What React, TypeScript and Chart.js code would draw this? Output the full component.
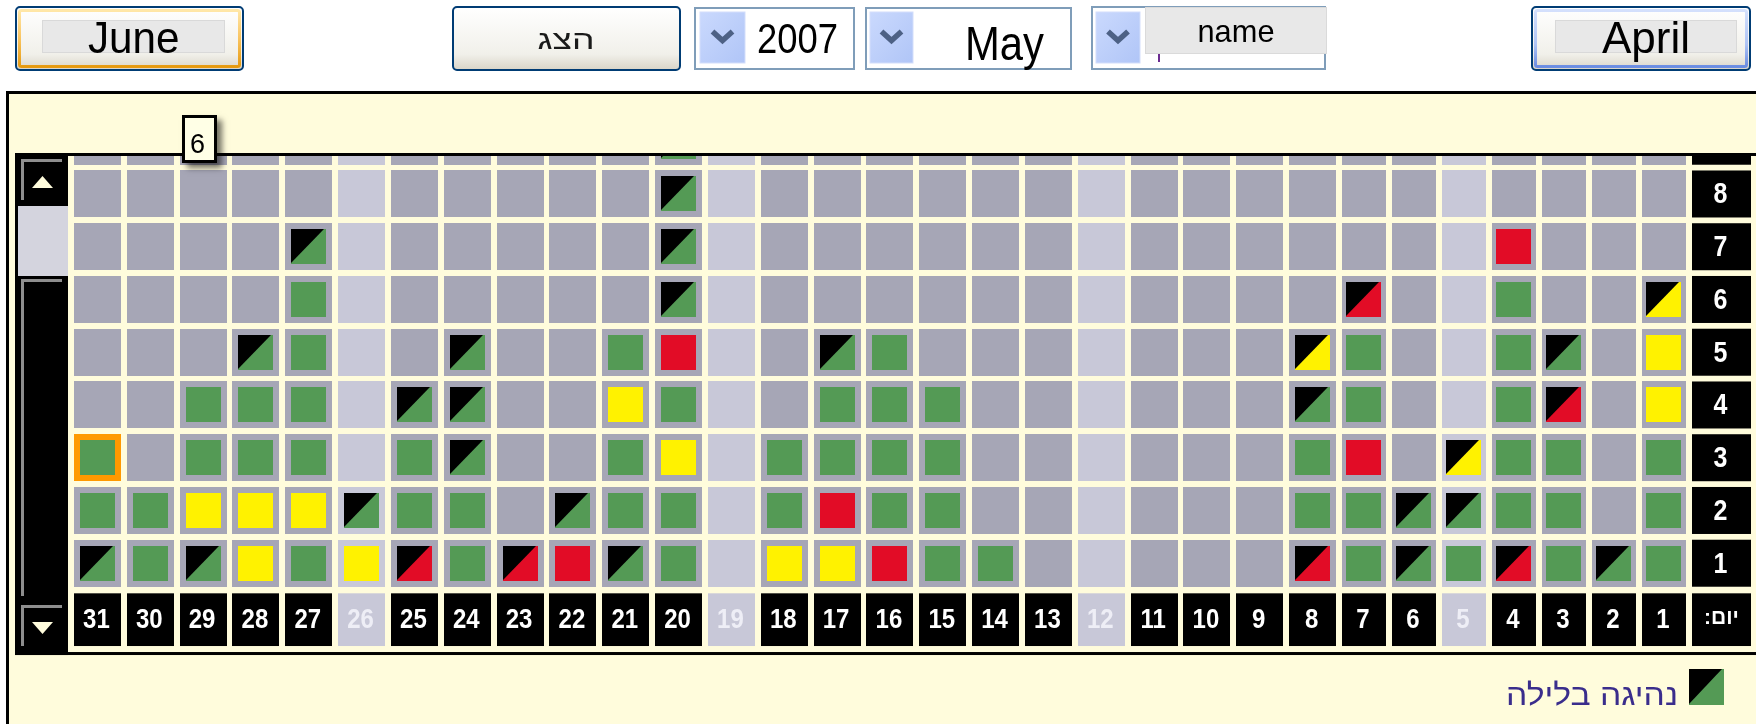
import React, { useEffect, useRef } from 'react';
import { Chart, registerables } from 'chart.js';

Chart.register(...registerables);

// ---------------- data ----------------
const DAYS = [31, 30, 29, 28, 27, 26, 25, 24, 23, 22, 21, 20, 19, 18, 17, 16, 15, 14, 13, 12, 11, 10, 9, 8, 7, 6, 5, 4, 3, 2, 1];
const REST_DAYS = [26, 19, 12, 5];
const ROWS = [9, 8, 7, 6, 5, 4, 3, 2, 1];
const DAY_AXIS_TITLE = 'יום:';
const LEGEND_TEXT = 'נהיגה בלילה';
const HOVER_TIP = '6';
const SELECTED_CELL = { day: 31, row: 3 };

const PREV_MONTH = 'June';
const NEXT_MONTH = 'April';
const SHOW_LABEL = 'הצג';
const YEAR_LABEL = '2007';
const MONTH_LABEL = 'May';
const DRIVER_LABEL = 'name';

type Cell = [number, number]; // [day, row]

const GREEN: Cell[] = [
  [27, 6], [4, 6],
  [27, 5], [21, 5], [16, 5], [7, 5], [4, 5],
  [29, 4], [28, 4], [27, 4], [20, 4], [17, 4], [16, 4], [15, 4], [7, 4], [4, 4],
  [31, 3], [29, 3], [28, 3], [27, 3], [25, 3], [21, 3], [18, 3], [17, 3], [16, 3], [15, 3], [8, 3], [4, 3], [3, 3], [1, 3],
  [31, 2], [30, 2], [25, 2], [24, 2], [21, 2], [20, 2], [18, 2], [16, 2], [15, 2], [8, 2], [7, 2], [4, 2], [3, 2], [1, 2],
  [30, 1], [27, 1], [24, 1], [20, 1], [15, 1], [14, 1], [7, 1], [5, 1], [3, 1], [1, 1],
];
const YELLOW: Cell[] = [
  [1, 5], [21, 4], [1, 4], [20, 3], [29, 2], [28, 2], [27, 2], [28, 1], [26, 1], [18, 1], [17, 1],
];
const RED: Cell[] = [[4, 7], [20, 5], [7, 3], [17, 2], [22, 1], [16, 1]];
const NIGHT_GREEN: Cell[] = [
  [20, 9], [20, 8], [27, 7], [20, 7], [20, 6],
  [28, 5], [24, 5], [17, 5], [3, 5],
  [25, 4], [24, 4], [8, 4], [24, 3],
  [26, 2], [22, 2], [6, 2], [5, 2],
  [31, 1], [29, 1], [21, 1], [6, 1], [2, 1],
];
const NIGHT_YELLOW: Cell[] = [[1, 6], [8, 5], [5, 3]];
const NIGHT_RED: Cell[] = [[7, 6], [3, 4], [25, 1], [23, 1], [8, 1], [4, 1]];

// ---------------- layout / style ----------------
const W = 1756;
const H = 724;
const FONT = '"Liberation Sans", Arial, sans-serif';
const CREAM = '#FFFCDC';
const CELL_GRAY = '#A6A6B6';
const CELL_LIGHT = '#C8C8D8';
const C_GREEN = '#549A55';
const C_YELLOW = '#FFF200';
const C_RED = '#E20C26';
const PITCH_WIDE = 52.83;
const PITCH_NARROW = 50;
const NARROW_MAX_DAY = 7;
const RATIO = PITCH_NARROW / PITCH_WIDE;
const CELL = 47;
const CELL_NARROW = 44;
const INNER = 35;

const colUnit = (d: number) =>
  d > NARROW_MAX_DAY ? 31 - d : 31 - NARROW_MAX_DAY - 1 + (1 + RATIO) / 2 + (NARROW_MAX_DAY - d) * RATIO;
const colWidth = (d: number) => (d > NARROW_MAX_DAY ? CELL : CELL_NARROW);

function makeCanvas(w: number, h: number, paint: (g: CanvasRenderingContext2D) => void) {
  const c = document.createElement('canvas');
  c.width = w;
  c.height = h;
  paint(c.getContext('2d')!);
  return c;
}

function buildImages() {
  const rect = (w: number, h: number, color: string) =>
    makeCanvas(w, h, (g) => {
      g.fillStyle = color;
      g.fillRect(0, 0, w, h);
    });
  const night = (color: string) =>
    makeCanvas(INNER, INNER, (g) => {
      g.fillStyle = color;
      g.fillRect(0, 0, INNER, INNER);
      g.fillStyle = '#000';
      g.beginPath();
      g.moveTo(0, 0);
      g.lineTo(INNER - 2, 0);
      g.lineTo(0, INNER - 1);
      g.closePath();
      g.fill();
    });
  return {
    grayWide: rect(CELL, CELL, CELL_GRAY),
    grayNarrow: rect(CELL_NARROW, CELL, CELL_GRAY),
    lightWide: rect(CELL, CELL, CELL_LIGHT),
    lightNarrow: rect(CELL_NARROW, CELL, CELL_LIGHT),
    selected: rect(CELL, CELL, '#FF9900'),
    green: rect(INNER, INNER, C_GREEN),
    yellow: rect(INNER, INNER, C_YELLOW),
    red: rect(INNER, INNER, C_RED),
    nGreen: night(C_GREEN),
    nYellow: night(C_YELLOW),
    nRed: night(C_RED),
  };
}

function drawStretched(
  ctx: CanvasRenderingContext2D,
  text: string,
  cx: number,
  cy: number,
  size: number,
  bold: boolean,
  color: string,
  sy: number,
) {
  ctx.save();
  ctx.translate(cx, cy);
  ctx.scale(1, sy);
  ctx.font = `${bold ? 'bold ' : ''}${size}px ${FONT}`;
  ctx.fillStyle = color;
  ctx.textAlign = 'center';
  ctx.textBaseline = 'alphabetic';
  ctx.fillText(text, 0, (size * 0.716) / 2);
  ctx.restore();
}

const decorPlugin = {
  id: 'decor',
  beforeDraw(chart: any) {
    const ctx: CanvasRenderingContext2D = chart.ctx;
    ctx.save();
    ctx.fillStyle = '#000';
    ctx.fillRect(6, 91, W - 6, 3);
    ctx.fillRect(6, 91, 3, H - 91);
    ctx.fillStyle = CREAM;
    ctx.fillRect(9, 94, W - 9, H - 94);
    ctx.restore();
  },
  beforeDatasetsDraw(chart: any) {
    chart.ctx.imageSmoothingEnabled = false;
  },
  afterDatasetsDraw(chart: any) {
    const ctx: CanvasRenderingContext2D = chart.ctx;
    const xs = chart.scales.x;
    const ys = chart.scales.y;
    const area = chart.chartArea;
    ctx.save();
    ctx.imageSmoothingEnabled = true;

    // grid frame
    ctx.fillStyle = '#000';
    ctx.fillRect(15, 153, W - 15, 3);
    const labelTop = ys.getPixelForValue(1) + CELL / 2 + 6.6;
    const labelH = 52.7;
    ctx.fillRect(15, labelTop + labelH + 6, W - 15, 3);
    // scrollbar
    ctx.fillRect(15, 153, 53, labelTop + labelH + 9 - 153);
    ctx.fillStyle = '#D4D4DE';
    ctx.fillRect(18, 206, 50, 70);
    ctx.fillStyle = '#8E8E8E';
    ctx.fillRect(21, 159, 41, 3);
    ctx.fillRect(21, 159, 3, 41);
    ctx.fillRect(21, 279, 41, 3);
    ctx.fillRect(21, 279, 3, 317);
    ctx.fillRect(21, 605, 41, 3);
    ctx.fillRect(21, 605, 3, 41);
    ctx.fillStyle = CREAM;
    ctx.beginPath();
    ctx.moveTo(32, 188);
    ctx.lineTo(53, 188);
    ctx.lineTo(42.5, 176);
    ctx.closePath();
    ctx.fill();
    ctx.beginPath();
    ctx.moveTo(32, 622);
    ctx.lineTo(53, 622);
    ctx.lineTo(42.5, 634);
    ctx.closePath();
    ctx.fill();

    // day label row (x axis)
    DAYS.forEach((d) => {
      const cx = xs.getPixelForValue(colUnit(d));
      const w = colWidth(d);
      const rest = REST_DAYS.includes(d);
      ctx.fillStyle = rest ? CELL_LIGHT : '#000';
      ctx.fillRect(Math.round(cx - w / 2), labelTop, w, labelH);
      drawStretched(ctx, String(d), cx - 1, labelTop + labelH / 2 - 1.5, 24, true, rest ? '#EEEEF6' : '#FFFFFF', 1.18);
    });

    // row label column (y axis)
    const colX = Math.round(xs.getPixelForValue(colUnit(1)) + CELL_NARROW / 2 + 6);
    const colW = 59;
    ctx.save();
    ctx.beginPath();
    ctx.rect(colX - 2, area.top, colW + 4, area.bottom - area.top);
    ctx.clip();
    ROWS.forEach((r) => {
      const cy = ys.getPixelForValue(r);
      ctx.fillStyle = '#000';
      ctx.fillRect(colX, cy - CELL / 2, colW, CELL);
      drawStretched(ctx, String(r), colX + colW / 2 - 1, cy - 1, 25, true, '#FFFFFF', 1.15);
    });
    ctx.restore();
    ctx.fillStyle = '#000';
    ctx.fillRect(colX, labelTop, colW, labelH);
    {
      // Hebrew word is an RTL run; the trailing colon sits on its left side.
      const word = DAY_AXIS_TITLE.replace(':', '');
      ctx.save();
      ctx.font = `bold 21px ${FONT}`;
      ctx.fillStyle = '#FFFFFF';
      ctx.textBaseline = 'middle';
      const ww = ctx.measureText(word).width;
      const cw = ctx.measureText(':').width;
      const total = ww + cw;
      const left = colX + colW / 2 - total / 2;
      const cy = labelTop + labelH / 2 - 1;
      ctx.textAlign = 'left';
      ctx.fillText(':', left, cy);
      ctx.fillText(word, left + cw, cy);
      ctx.restore();
    }

    // legend
    const iconX = 1689;
    const iconY = 669;
    ctx.fillStyle = C_GREEN;
    ctx.fillRect(iconX, iconY, 35, 36);
    ctx.fillStyle = '#000';
    ctx.beginPath();
    ctx.moveTo(iconX, iconY);
    ctx.lineTo(iconX + 33, iconY);
    ctx.lineTo(iconX, iconY + 35);
    ctx.closePath();
    ctx.fill();
    ctx.save();
    ctx.font = `30px ${FONT}`;
    ctx.textAlign = 'right';
    ctx.textBaseline = 'alphabetic';
    const mw = ctx.measureText(LEGEND_TEXT).width;
    const target = 172;
    ctx.translate(1678, 705);
    ctx.scale(target / mw, 1);
    ctx.fillStyle = '#3A2D8C';
    ctx.fillText(LEGEND_TEXT, 0, 0);
    ctx.restore();

    // hover tooltip
    ctx.save();
    ctx.shadowColor = 'rgba(0,0,0,0.55)';
    ctx.shadowBlur = 6;
    ctx.shadowOffsetX = 5;
    ctx.shadowOffsetY = 5;
    ctx.fillStyle = '#000';
    ctx.fillRect(182, 115, 35, 48);
    ctx.restore();
    ctx.fillStyle = '#FFFFE6';
    ctx.fillRect(185, 118, 29, 42);
    ctx.font = `27px ${FONT}`;
    ctx.fillStyle = '#000';
    ctx.textAlign = 'left';
    ctx.textBaseline = 'alphabetic';
    ctx.fillText(HOVER_TIP, 190, 153);

    ctx.restore();
  },
};

export default function App() {
  const ref = useRef<HTMLCanvasElement>(null);

  useEffect(() => {
    const canvas = ref.current;
    if (!canvas) return;
    const img = buildImages();

    const cellData = ROWS.flatMap((row) => DAYS.map((day) => ({ x: colUnit(day), y: row, day, row })));
    const cellStyle = (c: any) => {
      const r = c.raw;
      if (!r) return 'rect';
      if (r.day === SELECTED_CELL.day && r.row === SELECTED_CELL.row) return img.selected;
      const rest = REST_DAYS.includes(r.day);
      const narrow = r.day <= NARROW_MAX_DAY;
      if (rest) return narrow ? img.lightNarrow : img.lightWide;
      return narrow ? img.grayNarrow : img.grayWide;
    };
    const pts = (list: Cell[]) => list.map(([day, row]) => ({ x: colUnit(day), y: row }));
    const common = {
      pointRadius: 24,
      pointHoverRadius: 24,
      pointBorderWidth: 0,
      pointHitRadius: 0,
      showLine: false,
      clip: 0,
    };

    const chart = new Chart(canvas, {
      type: 'scatter',
      data: {
        datasets: [
          { label: 'cells', data: cellData, pointStyle: cellStyle, order: 10, ...common },
          { label: 'green', data: pts(GREEN), pointStyle: img.green, order: 1, ...common },
          { label: 'yellow', data: pts(YELLOW), pointStyle: img.yellow, order: 1, ...common },
          { label: 'red', data: pts(RED), pointStyle: img.red, order: 1, ...common },
          { label: 'night green', data: pts(NIGHT_GREEN), pointStyle: img.nGreen, order: 1, ...common },
          { label: 'night yellow', data: pts(NIGHT_YELLOW), pointStyle: img.nYellow, order: 1, ...common },
          { label: 'night red', data: pts(NIGHT_RED), pointStyle: img.nRed, order: 1, ...common },
        ] as any,
      },
      options: {
        responsive: false,
        animation: false,
        devicePixelRatio: 1,
        events: [],
        layout: { padding: { left: 71, right: W - 1689, top: 156, bottom: H - 589.6 } },
        plugins: { legend: { display: false }, tooltip: { enabled: false } },
        scales: {
          x: { type: 'linear', display: false, min: -0.5, max: colUnit(1) + RATIO / 2 },
          y: { type: 'linear', display: false, min: 0.5, max: 8.72 },
        },
      } as any,
      plugins: [decorPlugin],
    });
    return () => chart.destroy();
  }, []);

  const chevron = (bx: number, by: number, bw: number, bh: number) => {
    const cx = bx + bw / 2;
    const cy = by + bh / 2;
    return (
      <g>
        <rect x={bx} y={by} width={bw} height={bh} fill="url(#arrowGrad)" stroke="#D3DEFB" strokeWidth={1} />
        <path
          d={`M ${cx - 10} ${cy - 6} L ${cx} ${cy + 3} L ${cx + 10} ${cy - 6}`}
          fill="none"
          stroke="#4D6185"
          strokeWidth={5.5}
        />
      </g>
    );
  };

  return (
    <div style={{ position: 'absolute', left: 0, top: 0, width: W, height: H, background: '#fff', overflow: 'hidden' }}>
      <canvas ref={ref} width={W} height={H} style={{ position: 'absolute', left: 0, top: 0, width: W, height: H }} />
      <svg width={W} height={91} style={{ position: 'absolute', left: 0, top: 0 }} fontFamily="Liberation Sans, Arial, sans-serif">
        <defs>
          <linearGradient id="face" x1="0" y1="0" x2="0" y2="1">
            <stop offset="0" stopColor="#FFFFFF" />
            <stop offset="0.75" stopColor="#F1F0EA" />
            <stop offset="1" stopColor="#D9D4C7" />
          </linearGradient>
          <linearGradient id="orange" x1="0" y1="0" x2="0" y2="1">
            <stop offset="0" stopColor="#FFE7A8" />
            <stop offset="0.5" stopColor="#F9C460" />
            <stop offset="1" stopColor="#E69A10" />
          </linearGradient>
          <linearGradient id="blue" x1="0" y1="0" x2="0" y2="1">
            <stop offset="0" stopColor="#D4E0FC" />
            <stop offset="0.6" stopColor="#AFC4F5" />
            <stop offset="1" stopColor="#6C8DE2" />
          </linearGradient>
          <linearGradient id="arrowGrad" x1="0" y1="0" x2="1" y2="1">
            <stop offset="0" stopColor="#CAD9FD" />
            <stop offset="1" stopColor="#B0C5F7" />
          </linearGradient>
        </defs>

        {/* June button */}
        <rect x={16} y={7} width={227} height={63} rx={4} fill="url(#face)" stroke="#003C74" strokeWidth={2} />
        <rect x={19.5} y={10.5} width={220} height={56} rx={2} fill="none" stroke="url(#orange)" strokeWidth={3} />
        <rect x={42.5} y={20.5} width={182} height={32} fill="#E8E8E8" stroke="#D9D9D9" strokeWidth={1} />
        <text x={88} y={53} fontSize={44} fill="#000" textLength={91.5} lengthAdjust="spacingAndGlyphs">
          {PREV_MONTH}
        </text>

        {/* show button */}
        <rect x={453} y={7} width={227} height={63} rx={4} fill="url(#face)" stroke="#003C74" strokeWidth={2} />
        <text x={566} y={49} fontSize={27} fill="#1A1A1A" textAnchor="middle" textLength={57} lengthAdjust="spacingAndGlyphs">
          {SHOW_LABEL}
        </text>

        {/* year select */}
        <rect x={695} y={8} width={159} height={61} fill="#FFFFFF" stroke="#7F9DB9" strokeWidth={2} />
        {chevron(700, 12, 45, 51)}
        <text x={757} y={53} fontSize={42} fill="#000" textLength={81} lengthAdjust="spacingAndGlyphs">
          {YEAR_LABEL}
        </text>

        {/* month select */}
        <rect x={866} y={8} width={205} height={61} fill="#FFFFFF" stroke="#7F9DB9" strokeWidth={2} />
        {chevron(870, 12, 43, 51)}
        <text x={965} y={60} fontSize={48} fill="#000" textLength={79} lengthAdjust="spacingAndGlyphs">
          {MONTH_LABEL}
        </text>

        {/* driver select */}
        <rect x={1092} y={7} width={233} height={62} fill="#FFFFFF" stroke="#7F9DB9" strokeWidth={2} />
        {chevron(1096, 12, 44, 51)}
        <rect x={1158} y={53} width={2} height={9} fill="#6B2C91" />
        <rect x={1145.5} y={7.5} width={181} height={46} fill="#E8E8E8" stroke="#DADADA" strokeWidth={1} />
        <text x={1236} y={42} fontSize={32} fill="#000" textAnchor="middle" textLength={77} lengthAdjust="spacingAndGlyphs">
          {DRIVER_LABEL}
        </text>

        {/* April button */}
        <rect x={1532} y={7} width={218} height={63} rx={4} fill="url(#face)" stroke="#003C74" strokeWidth={2} />
        <rect x={1535.5} y={10.5} width={211} height={56} rx={2} fill="none" stroke="url(#blue)" strokeWidth={3} />
        <rect x={1555.5} y={20.5} width={181} height={32} fill="#E8E8E8" stroke="#D9D9D9" strokeWidth={1} />
        <text x={1602} y={53} fontSize={44} fill="#000" textLength={88} lengthAdjust="spacingAndGlyphs">
          {NEXT_MONTH}
        </text>
      </svg>
    </div>
  );
}
